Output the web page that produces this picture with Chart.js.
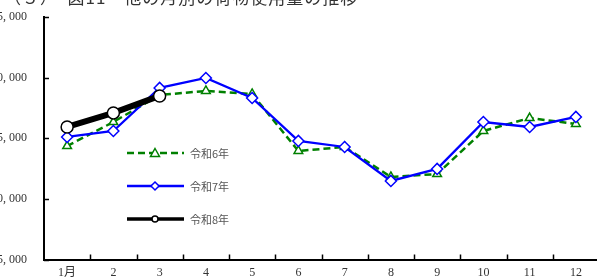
<!DOCTYPE html>
<html>
<head>
<meta charset="utf-8">
<script src="https://cdn.jsdelivr.net/npm/chart.js"></script>
<style>
  html, body { margin: 0; padding: 0; background: #fff; overflow: hidden; }
  #wrap { position: relative; width: 597px; height: 279px; overflow: hidden; }
  #title {
    position: absolute; left: 4px; top: -16px; white-space: nowrap;
    font: 17px "Noto Sans CJK JP", serif; color: #333; letter-spacing: 1px;
  }
  #box { position: absolute; left: 0; top: 0; width: 610px; height: 279px; }
</style>
</head>
<body>
<div id="wrap">
  <div id="box"><canvas id="chart"></canvas></div>
  <div id="title">（５）　図11　他の月別の荷物使用量の推移</div>
</div>
<script>
const months = ["1月", "2", "3", "4", "5", "6", "7", "8", "9", "10", "11", "12"];
const seriesNames = ["令和6年", "令和7年", "令和8年"];
const r6 = [24360, 26340, 28570, 28900, 28650, 23950, 24280, 21810, 22050, 25600, 26670, 26180];
const r7 = [25110, 25600, 29150, 29970, 28320, 24780, 24280, 21480, 22470, 26340, 25930, 26760];
const r8 = [25930, 27090, 28490];
const yMin = 15000, yMax = 35000, yStep = 5000;

const serif = "'Liberation Serif', 'Noto Sans CJK JP', serif";

// inward tick marks + hand drawn legend (line sample with marker in the middle)
const extras = {
  id: "extras",
  afterDraw(chart) {
    const ctx = chart.ctx;
    const x = chart.scales.x, y = chart.scales.y;
    const area = chart.chartArea;
    ctx.save();
    ctx.strokeStyle = "#000";
    ctx.lineWidth = 1.5;
    y.ticks.forEach(t => {
      const py = Math.round(y.getPixelForValue(t.value)) + 0.5;
      ctx.beginPath();
      ctx.moveTo(area.left, py);
      ctx.lineTo(area.left + 5, py);
      ctx.stroke();
    });
    for (let i = 1; i < months.length; i++) {
      const px = Math.round((x.getPixelForValue(i - 1) + x.getPixelForValue(i)) / 2) + 0.5;
      ctx.beginPath();
      ctx.moveTo(px, area.bottom);
      ctx.lineTo(px, area.bottom - 5);
      ctx.stroke();
    }

    // legend
    const rows = [153, 186, 219];
    [0, 1, 2].forEach(k => {
      const ds = chart.data.datasets.find(d => d.label === seriesNames[k]);
      const ly = rows[k];
      ctx.save();
      ctx.strokeStyle = ds.borderColor;
      ctx.lineWidth = k === 2 ? 3.5 : ds.borderWidth;
      ctx.setLineDash(ds.borderDash || []);
      ctx.beginPath();
      ctx.moveTo(127, ly);
      ctx.lineTo(184, ly);
      ctx.stroke();
      ctx.restore();
      ctx.fillStyle = "#fff";
      ctx.strokeStyle = ds.pointBorderColor;
      ctx.lineWidth = 1.5;
      ctx.beginPath();
      if (ds.pointStyle === "triangle") {
        ctx.moveTo(155, ly - 4.5); ctx.lineTo(159.5, ly + 3.5); ctx.lineTo(150.5, ly + 3.5); ctx.closePath();
      } else if (ds.pointStyle === "rectRot") {
        ctx.moveTo(155, ly - 4); ctx.lineTo(159, ly); ctx.lineTo(155, ly + 4); ctx.lineTo(151, ly); ctx.closePath();
      } else {
        ctx.arc(155, ly, 3, 0, Math.PI * 2);
      }
      ctx.fill();
      ctx.stroke();
      ctx.fillStyle = "#555";
      ctx.font = "11px 'Noto Sans CJK JP', sans-serif";
      ctx.textBaseline = "middle";
      ctx.fillText(seriesNames[k], 190, ly + 1);
    });
    ctx.restore();
  }
};

new Chart(document.getElementById("chart"), {
  type: "line",
  data: {
    labels: months,
    datasets: [
      {
        label: seriesNames[0], data: r6, order: 3,
        borderColor: "#008000", borderWidth: 2.5, borderDash: [7, 4],
        pointStyle: "triangle", pointRadius: 5, pointBorderWidth: 1.5,
        pointBackgroundColor: "#fff", pointBorderColor: "#008000", tension: 0
      },
      {
        label: seriesNames[1], data: r7, order: 2,
        borderColor: "#0000ff", borderWidth: 2.3,
        pointStyle: "rectRot", pointRadius: 5.5, pointBorderWidth: 1.5,
        pointBackgroundColor: "#fff", pointBorderColor: "#0000ff", tension: 0
      },
      {
        label: seriesNames[2], data: r8, order: 1,
        borderColor: "#000", borderWidth: 6,
        pointStyle: "circle", pointRadius: 6, pointBorderWidth: 1.5,
        pointBackgroundColor: "#fff", pointBorderColor: "#000", tension: 0
      }
    ]
  },
  options: {
    responsive: true,
    maintainAspectRatio: false,
    animation: false,
    layout: { padding: { top: 17, right: 11, left: 0, bottom: 0 } },
    plugins: { legend: { display: false }, tooltip: { enabled: false } },
    scales: {
      x: {
        offset: true,
        grid: { display: false, drawTicks: false },
        border: { display: true, color: "#000", width: 2 },
        ticks: { color: "#333", padding: 6, maxRotation: 0, autoSkip: false, font: { family: serif, size: 12 } },
        afterFit(s) { s.height = 19.5; s.paddingLeft = 0; s.paddingRight = 0; }
      },
      y: {
        min: yMin, max: yMax,
        grid: { display: false, drawTicks: false },
        border: { display: true, color: "#000", width: 2 },
        ticks: {
          stepSize: yStep, color: "#333", padding: 17,
          font: { family: serif, size: 12 },
          callback: v => v.toLocaleString("en-US").replace(",", ", ")
        },
        afterFit(s) { s.width = 44; s.paddingTop = 0; s.paddingBottom = 0; }
      }
    }
  },
  plugins: [extras]
});
</script>
</body>
</html>
